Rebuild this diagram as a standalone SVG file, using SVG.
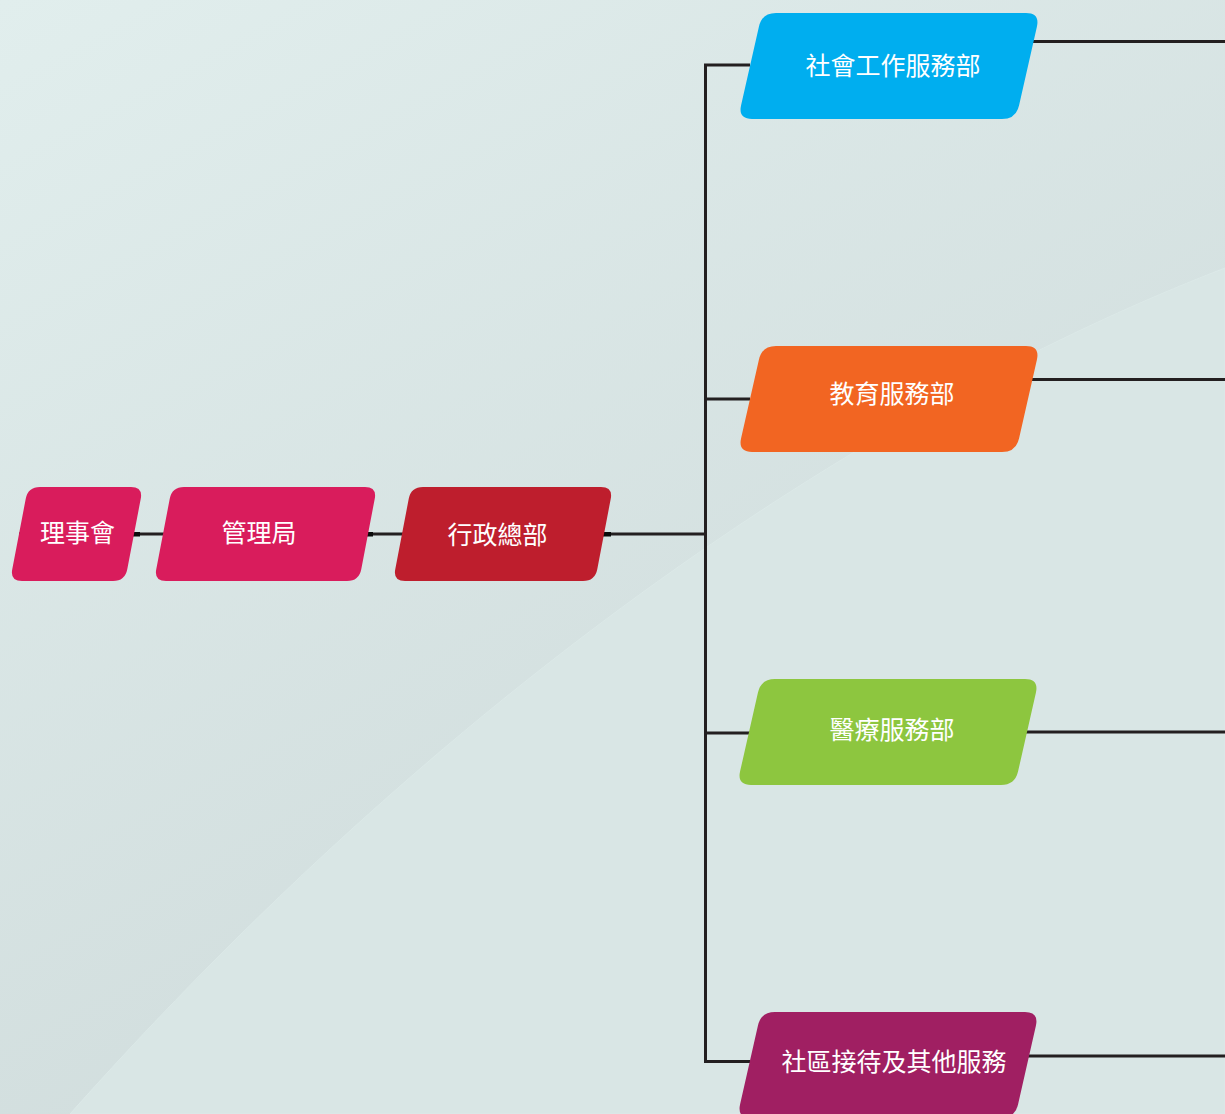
<svg xmlns="http://www.w3.org/2000/svg" width="1225" height="1114" viewBox="0 0 1225 1114">
<defs>
<linearGradient id="bg" gradientUnits="userSpaceOnUse" x1="0" y1="0" x2="600" y2="1114">
<stop offset="0" stop-color="#e1eeed"/>
<stop offset="1" stop-color="#cfdbdb"/>
</linearGradient>
<path id="dept" d="M38,0 L288,0 Q302,0 298.9,13.65 L281.1,92.35 Q278,106 264,106 L14,106 Q0,106 3.1,92.35 L20.9,13.65 Q24,0 38,0 Z"/>
</defs>
<style>
.ln{stroke:#231f20;stroke-width:3;fill:none}
.blk{fill:#0b0b0b}
.t{font-family:"Noto Sans CJK TC","Noto Sans CJK SC",sans-serif;font-size:25px;fill:#ffffff;text-anchor:middle}
</style>
<rect x="0" y="0" width="1225" height="1114" fill="url(#bg)"/>
<path d="M1225,268 C960,370 520,610 70,1114 L1225,1114 Z" fill="#d9e6e5" stroke="#dce9e8" stroke-width="1"/>
<g id="connectors">
<line class="ln" x1="19" y1="534" x2="705" y2="534"/>
<path class="ln" d="M750,65 H705.5 V1061.5 H750"/>
<line class="ln" x1="705" y1="399" x2="750" y2="399"/>
<line class="ln" x1="705" y1="733" x2="750" y2="733"/>
<line class="ln" x1="1020" y1="41.5" x2="1225" y2="41.5"/>
<line class="ln" x1="1020" y1="379.5" x2="1225" y2="379.5"/>
<line class="ln" x1="1015" y1="732" x2="1225" y2="732"/>
<line class="ln" x1="1020" y1="1056" x2="1225" y2="1056"/>
<rect class="blk" x="133" y="532" width="7" height="4.5"/>
<rect class="blk" x="367" y="532" width="6" height="4.5"/>
<rect class="blk" x="603" y="532" width="8" height="4.5"/>
</g>
<g id="n1" transform="translate(10,487)">
<path d="M30,0 L121,0 Q133,0 130.74,11.79 L117.26,82.21 Q115,94 103,94 L12,94 Q0,94 2.26,82.21 L15.74,11.79 Q18,0 30,0 Z" fill="#d91c5c"/>
<text class="t" x="67.5" y="54.5">理事會</text>
</g>
<g id="n2" transform="translate(154,487)">
<path d="M30,0 L211,0 Q223,0 220.74,11.79 L207.26,82.21 Q205,94 193,94 L12,94 Q0,94 2.26,82.21 L15.74,11.79 Q18,0 30,0 Z" fill="#d91c5c"/>
<text class="t" x="105" y="54.5">管理局</text>
</g>
<g id="n3" transform="translate(393,487)">
<path d="M30,0 L208,0 Q220,0 217.74,11.79 L204.26,82.21 Q202,94 190,94 L12,94 Q0,94 2.26,82.21 L15.74,11.79 Q18,0 30,0 Z" fill="#be1e2d"/>
<text class="t" x="104.5" y="57">行政總部</text>
</g>
<g id="d1" transform="translate(738,13)">
<use href="#dept" fill="#00aeef"/>
<text class="t" x="155" y="61.5">社會工作服務部</text>
</g>
<g id="d2" transform="translate(738,346)">
<use href="#dept" fill="#f26522"/>
<text class="t" x="154" y="56.5">教育服務部</text>
</g>
<g id="d3" transform="translate(737,679)">
<use href="#dept" fill="#8dc63f"/>
<text class="t" x="155" y="60">醫療服務部</text>
</g>
<g id="d4" transform="translate(737,1012)">
<use href="#dept" fill="#a01f62"/>
<text class="t" x="157" y="58.5">社區接待及其他服務</text>
</g>
</svg>
